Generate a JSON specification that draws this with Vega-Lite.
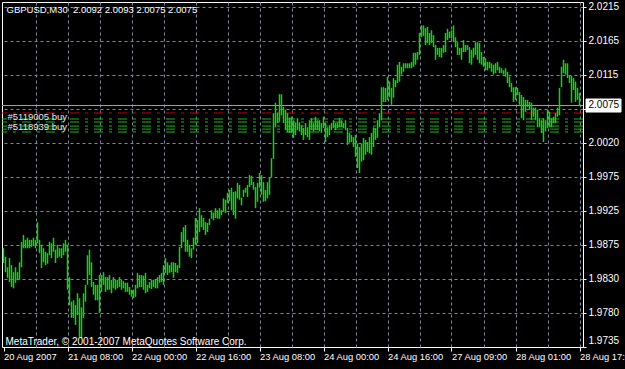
{
  "$schema": "https://vega.github.io/schema/vega-lite/v6.json",
  "width": 581,
  "height": 345,
  "autosize": {"type": "none"},
  "padding": {"left": 2, "top": 2, "right": 42, "bottom": 22},
  "background": "black",
  "config": {
    "view": {"stroke": "white", "strokeWidth": 1, "fill": "black"},
    "font": "Liberation Sans",
    "text": {"font": "Liberation Sans"}
  },
  "datasets": {
    "bars": [
      {"i":0,"h":1.9872,"l":1.9851},{"i":1,"h":1.9860,"l":1.9838},{"i":2,"h":1.9845,"l":1.9830},{"i":3,"h":1.9858,"l":1.9824},{"i":4,"h":1.9848,"l":1.9817},{"i":5,"h":1.9838,"l":1.9815},{"i":6,"h":1.9845,"l":1.9823},{"i":7,"h":1.9838,"l":1.9827},{"i":8,"h":1.9852,"l":1.9827},{"i":9,"h":1.9881,"l":1.9845},
      {"i":10,"h":1.9891,"l":1.9872},{"i":11,"h":1.9884,"l":1.9872},{"i":12,"h":1.9887,"l":1.9872},{"i":13,"h":1.9884,"l":1.9872},{"i":14,"h":1.9884,"l":1.9874},{"i":15,"h":1.9887,"l":1.9875},{"i":16,"h":1.9884,"l":1.9872},{"i":17,"h":1.9909,"l":1.9879},{"i":18,"h":1.9884,"l":1.9865},{"i":19,"h":1.9877,"l":1.9844},
      {"i":20,"h":1.9872,"l":1.9852},{"i":21,"h":1.9867,"l":1.9848},{"i":22,"h":1.9865,"l":1.9850},{"i":23,"h":1.9881,"l":1.9862},{"i":24,"h":1.9879,"l":1.9858},{"i":25,"h":1.9887,"l":1.9867},{"i":26,"h":1.9870,"l":1.9851},{"i":27,"h":1.9877,"l":1.9858},{"i":28,"h":1.9872,"l":1.9860},{"i":29,"h":1.9872,"l":1.9858},
      {"i":30,"h":1.9879,"l":1.9862},{"i":31,"h":1.9884,"l":1.9867},{"i":32,"h":1.9877,"l":1.9813},{"i":33,"h":1.9831,"l":1.9791},{"i":34,"h":1.9796,"l":1.9773},{"i":35,"h":1.9798,"l":1.9773},{"i":36,"h":1.9791,"l":1.9763},{"i":37,"h":1.9808,"l":1.9777},{"i":38,"h":1.9801,"l":1.9746},{"i":39,"h":1.9788,"l":1.9744},
      {"i":40,"h":1.9808,"l":1.9773},{"i":41,"h":1.9820,"l":1.9796},{"i":42,"h":1.9862,"l":1.9820},{"i":43,"h":1.9870,"l":1.9834},{"i":44,"h":1.9852,"l":1.9817},{"i":45,"h":1.9824,"l":1.9806},{"i":46,"h":1.9820,"l":1.9798},{"i":47,"h":1.9820,"l":1.9798},{"i":48,"h":1.9834,"l":1.9780},{"i":49,"h":1.9834,"l":1.9810},
      {"i":50,"h":1.9838,"l":1.9820},{"i":51,"h":1.9831,"l":1.9810},{"i":52,"h":1.9831,"l":1.9813},{"i":53,"h":1.9834,"l":1.9813},{"i":54,"h":1.9827,"l":1.9808},{"i":55,"h":1.9831,"l":1.9815},{"i":56,"h":1.9827,"l":1.9813},{"i":57,"h":1.9827,"l":1.9815},{"i":58,"h":1.9831,"l":1.9817},{"i":59,"h":1.9827,"l":1.9813},
      {"i":60,"h":1.9825,"l":1.9815},{"i":61,"h":1.9823,"l":1.9810},{"i":62,"h":1.9823,"l":1.9810},{"i":63,"h":1.9817,"l":1.9806},{"i":64,"h":1.9813,"l":1.9803},{"i":65,"h":1.9813,"l":1.9801},{"i":66,"h":1.9820,"l":1.9803},{"i":67,"h":1.9837,"l":1.9815},{"i":68,"h":1.9834,"l":1.9817},{"i":69,"h":1.9834,"l":1.9817},
      {"i":70,"h":1.9833,"l":1.9813},{"i":71,"h":1.9837,"l":1.9808},{"i":72,"h":1.9820,"l":1.9810},{"i":73,"h":1.9824,"l":1.9815},{"i":74,"h":1.9827,"l":1.9814},{"i":75,"h":1.9827,"l":1.9817},{"i":76,"h":1.9827,"l":1.9815},{"i":77,"h":1.9831,"l":1.9815},{"i":78,"h":1.9834,"l":1.9823},{"i":79,"h":1.9837,"l":1.9824},
      {"i":80,"h":1.9848,"l":1.9820},{"i":81,"h":1.9858,"l":1.9837},{"i":82,"h":1.9852,"l":1.9834},{"i":83,"h":1.9848,"l":1.9837},{"i":84,"h":1.9852,"l":1.9838},{"i":85,"h":1.9852,"l":1.9830},{"i":86,"h":1.9851,"l":1.9838},{"i":87,"h":1.9848,"l":1.9837},{"i":88,"h":1.9874,"l":1.9844},{"i":89,"h":1.9895,"l":1.9872},
      {"i":90,"h":1.9902,"l":1.9881},{"i":91,"h":1.9905,"l":1.9867},{"i":92,"h":1.9884,"l":1.9867},{"i":93,"h":1.9877,"l":1.9860},{"i":94,"h":1.9872,"l":1.9858},{"i":95,"h":1.9887,"l":1.9870},{"i":96,"h":1.9915,"l":1.9877},{"i":97,"h":1.9912,"l":1.9879},{"i":98,"h":1.9929,"l":1.9895},{"i":99,"h":1.9919,"l":1.9902},
      {"i":100,"h":1.9915,"l":1.9898},{"i":101,"h":1.9909,"l":1.9891},{"i":102,"h":1.9908,"l":1.9895},{"i":103,"h":1.9914,"l":1.9905},{"i":104,"h":1.9926,"l":1.9914},{"i":105,"h":1.9923,"l":1.9912},{"i":106,"h":1.9929,"l":1.9915},{"i":107,"h":1.9926,"l":1.9914},{"i":108,"h":1.9929,"l":1.9914},{"i":109,"h":1.9926,"l":1.9919},
      {"i":110,"h":1.9943,"l":1.9924},{"i":111,"h":1.9941,"l":1.9922},{"i":112,"h":1.9951,"l":1.9936},{"i":113,"h":1.9955,"l":1.9939},{"i":114,"h":1.9958,"l":1.9926},{"i":115,"h":1.9952,"l":1.9919},{"i":116,"h":1.9953,"l":1.9914},{"i":117,"h":1.9965,"l":1.9943},{"i":118,"h":1.9962,"l":1.9941},{"i":119,"h":1.9944,"l":1.9933},
      {"i":120,"h":1.9955,"l":1.9945},{"i":121,"h":1.9958,"l":1.9951},{"i":122,"h":1.9962,"l":1.9945},{"i":123,"h":1.9976,"l":1.9959},{"i":124,"h":1.9975,"l":1.9962},{"i":125,"h":1.9966,"l":1.9955},{"i":126,"h":1.9959,"l":1.9929},{"i":127,"h":1.9965,"l":1.9938},{"i":128,"h":1.9979,"l":1.9958},{"i":129,"h":1.9976,"l":1.9948},
      {"i":130,"h":1.9966,"l":1.9938},{"i":131,"h":1.9955,"l":1.9939},{"i":132,"h":1.9966,"l":1.9943},{"i":133,"h":1.9973,"l":1.9948},{"i":134,"h":2.0000,"l":1.9973},{"i":135,"h":2.0064,"l":1.9999},{"i":136,"h":2.0079,"l":2.0044},{"i":137,"h":2.0065,"l":2.0050},{"i":138,"h":2.0091,"l":2.0052},{"i":139,"h":2.0091,"l":2.0061},
      {"i":140,"h":2.0073,"l":2.0050},{"i":141,"h":2.0069,"l":2.0040},{"i":142,"h":2.0064,"l":2.0037},{"i":143,"h":2.0058,"l":2.0036},{"i":144,"h":2.0059,"l":2.0036},{"i":145,"h":2.0054,"l":2.0029},{"i":146,"h":2.0051,"l":2.0033},{"i":147,"h":2.0057,"l":2.0040},{"i":148,"h":2.0051,"l":2.0038},{"i":149,"h":2.0047,"l":2.0033},
      {"i":150,"h":2.0043,"l":2.0026},{"i":151,"h":2.0050,"l":2.0033},{"i":152,"h":2.0044,"l":2.0030},{"i":153,"h":2.0054,"l":2.0026},{"i":154,"h":2.0057,"l":2.0040},{"i":155,"h":2.0050,"l":2.0038},{"i":156,"h":2.0059,"l":2.0040},{"i":157,"h":2.0054,"l":2.0040},{"i":158,"h":2.0054,"l":2.0038},{"i":159,"h":2.0050,"l":2.0036},
      {"i":160,"h":2.0059,"l":2.0043},{"i":161,"h":2.0050,"l":2.0023},{"i":162,"h":2.0044,"l":2.0030},{"i":163,"h":2.0047,"l":2.0033},{"i":164,"h":2.0050,"l":2.0040},{"i":165,"h":2.0054,"l":2.0043},{"i":166,"h":2.0050,"l":2.0040},{"i":167,"h":2.0051,"l":2.0043},{"i":168,"h":2.0057,"l":2.0044},{"i":169,"h":2.0054,"l":2.0044},
      {"i":170,"h":2.0050,"l":2.0043},{"i":171,"h":2.0054,"l":2.0040},{"i":172,"h":2.0043,"l":2.0019},{"i":173,"h":2.0036,"l":2.0022},{"i":174,"h":2.0033,"l":2.0023},{"i":175,"h":2.0030,"l":2.0016},{"i":176,"h":2.0033,"l":2.0002},{"i":177,"h":2.0021,"l":1.9986},{"i":178,"h":2.0016,"l":1.9979},{"i":179,"h":2.0021,"l":1.9995},
      {"i":180,"h":2.0029,"l":1.9997},{"i":181,"h":2.0026,"l":2.0005},{"i":182,"h":2.0023,"l":2.0009},{"i":183,"h":2.0030,"l":2.0007},{"i":184,"h":2.0036,"l":2.0005},{"i":185,"h":2.0044,"l":2.0016},{"i":186,"h":2.0043,"l":2.0026},{"i":187,"h":2.0054,"l":2.0029},{"i":188,"h":2.0064,"l":2.0044},{"i":189,"h":2.0101,"l":2.0054},
      {"i":190,"h":2.0101,"l":2.0080},{"i":191,"h":2.0100,"l":2.0080},{"i":192,"h":2.0116,"l":2.0083},{"i":193,"h":2.0109,"l":2.0087},{"i":194,"h":2.0100,"l":2.0076},{"i":195,"h":2.0114,"l":2.0086},{"i":196,"h":2.0111,"l":2.0101},{"i":197,"h":2.0133,"l":2.0107},{"i":198,"h":2.0137,"l":2.0109},{"i":199,"h":2.0130,"l":2.0119},
      {"i":200,"h":2.0135,"l":2.0123},{"i":201,"h":2.0135,"l":2.0128},{"i":202,"h":2.0135,"l":2.0128},{"i":203,"h":2.0135,"l":2.0128},{"i":204,"h":2.0137,"l":2.0128},{"i":205,"h":2.0150,"l":2.0130},{"i":206,"h":2.0150,"l":2.0133},{"i":207,"h":2.0151,"l":2.0140},{"i":208,"h":2.0178,"l":2.0147},{"i":209,"h":2.0189,"l":2.0172},
      {"i":210,"h":2.0189,"l":2.0174},{"i":211,"h":2.0185,"l":2.0161},{"i":212,"h":2.0187,"l":2.0164},{"i":213,"h":2.0178,"l":2.0161},{"i":214,"h":2.0182,"l":2.0164},{"i":215,"h":2.0175,"l":2.0158},{"i":216,"h":2.0161,"l":2.0140},{"i":217,"h":2.0157,"l":2.0147},{"i":218,"h":2.0157,"l":2.0144},{"i":219,"h":2.0157,"l":2.0143},
      {"i":220,"h":2.0161,"l":2.0150},{"i":221,"h":2.0178,"l":2.0151},{"i":222,"h":2.0184,"l":2.0168},{"i":223,"h":2.0180,"l":2.0171},{"i":224,"h":2.0182,"l":2.0171},{"i":225,"h":2.0189,"l":2.0165},{"i":226,"h":2.0172,"l":2.0158},{"i":227,"h":2.0165,"l":2.0147},{"i":228,"h":2.0157,"l":2.0147},{"i":229,"h":2.0157,"l":2.0140},
      {"i":230,"h":2.0168,"l":2.0151},{"i":231,"h":2.0161,"l":2.0151},{"i":232,"h":2.0161,"l":2.0154},{"i":233,"h":2.0158,"l":2.0135},{"i":234,"h":2.0154,"l":2.0133},{"i":235,"h":2.0157,"l":2.0143},{"i":236,"h":2.0165,"l":2.0147},{"i":237,"h":2.0165,"l":2.0140},{"i":238,"h":2.0164,"l":2.0135},{"i":239,"h":2.0151,"l":2.0133},
      {"i":240,"h":2.0144,"l":2.0130},{"i":241,"h":2.0142,"l":2.0125},{"i":242,"h":2.0137,"l":2.0125},{"i":243,"h":2.0137,"l":2.0128},{"i":244,"h":2.0135,"l":2.0123},{"i":245,"h":2.0133,"l":2.0119},{"i":246,"h":2.0135,"l":2.0121},{"i":247,"h":2.0137,"l":2.0125},{"i":248,"h":2.0130,"l":2.0121},{"i":249,"h":2.0128,"l":2.0121},
      {"i":250,"h":2.0125,"l":2.0119},{"i":251,"h":2.0128,"l":2.0116},{"i":252,"h":2.0123,"l":2.0107},{"i":253,"h":2.0116,"l":2.0101},{"i":254,"h":2.0107,"l":2.0094},{"i":255,"h":2.0101,"l":2.0080},{"i":256,"h":2.0101,"l":2.0083},{"i":257,"h":2.0100,"l":2.0090},{"i":258,"h":2.0094,"l":2.0076},{"i":259,"h":2.0090,"l":2.0057},
      {"i":260,"h":2.0087,"l":2.0054},{"i":261,"h":2.0083,"l":2.0066},{"i":262,"h":2.0083,"l":2.0073},{"i":263,"h":2.0080,"l":2.0069},{"i":264,"h":2.0079,"l":2.0054},{"i":265,"h":2.0072,"l":2.0059},{"i":266,"h":2.0072,"l":2.0054},{"i":267,"h":2.0069,"l":2.0044},{"i":268,"h":2.0057,"l":2.0044},{"i":269,"h":2.0054,"l":2.0036},
      {"i":270,"h":2.0057,"l":2.0023},{"i":271,"h":2.0054,"l":2.0038},{"i":272,"h":2.0069,"l":2.0043},{"i":273,"h":2.0066,"l":2.0044},{"i":274,"h":2.0057,"l":2.0044},{"i":275,"h":2.0059,"l":2.0050},{"i":276,"h":2.0064,"l":2.0050},{"i":277,"h":2.0072,"l":2.0059},{"i":278,"h":2.0100,"l":2.0061},{"i":279,"h":2.0130,"l":2.0101},
      {"i":280,"h":2.0140,"l":2.0121},{"i":281,"h":2.0135,"l":2.0119},{"i":282,"h":2.0135,"l":2.0114},{"i":283,"h":2.0118,"l":2.0107},{"i":284,"h":2.0117,"l":2.0079},{"i":285,"h":2.0114,"l":2.0097},{"i":286,"h":2.0109,"l":2.0080},{"i":287,"h":2.0100,"l":2.0083},{"i":288,"h":2.0093,"l":2.0075}
    ],
    "orders": [
      {"p": 2.00643, "kind": "stop"},
      {"p": 2.00558, "kind": "open"},
      {"p": 2.00515, "kind": "open"},
      {"p": 2.00457, "kind": "open"},
      {"p": 2.00414, "kind": "open"},
      {"p": 2.00373, "kind": "open"}
    ],
    "notes": [
      {"t": "GBPUSD,M30\u00a0\u00a02.0092 2.0093 2.0075 2.0075", "i": 1.5, "p": 2.02108, "c": "white", "s": 9.5},
      {"t": "MetaTrader, © 2001-2007 MetaQuotes Software Corp.", "i": 1, "p": 1.97387, "c": "white", "s": 10},
      {"t": "#5119005 buy", "i": 2, "p": 2.00586, "c": "#e8e8e8", "s": 9.5},
      {"t": "#5118939 buy", "i": 2, "p": 2.00437, "c": "#e8e8e8", "s": 9.5}
    ],
    "price": [
      {"t": "2.0075", "p": 2.0075, "x1": 291.25, "x2": 308.75, "p1": 2.00842, "p2": 2.00657, "xt": 292.5}
    ]
  },
  "layer": [
    {
      "data": {"name": "orders"},
      "mark": {"type": "rule", "strokeWidth": 1, "strokeDash": [9,6,3,6]},
      "encoding": {
        "y": {"field": "p", "type": "quantitative", "scale": {"domain": [1.973157, 2.022216], "nice": false, "zero": false}},
        "color": {"field": "kind", "type": "nominal", "scale": {"domain": ["stop","open"], "range": ["#c80000","#22b022"]}, "legend": null}
      }
    },
    {
      "data": {"values": [{"p": 2.0075}]},
      "mark": {"type": "rule", "color": "#a0a0a0", "strokeWidth": 1},
      "encoding": {"y": {"field": "p", "type": "quantitative"}}
    },
    {
      "data": {"name": "bars"},
      "mark": {"type": "rule", "color": "#14d214", "strokeWidth": 1.5},
      "encoding": {
        "x": {
          "field": "i", "type": "quantitative",
          "scale": {"domain": [-0.75, 289.75], "nice": false, "zero": false},
          "axis": {
            "orient": "bottom", "title": null, "domain": false, "tickCount": 200,
            "values": [0,16,32,48,64,80,96,112,128,144,160,176,192,208,224,240,256,272,288],
            "grid": true, "gridColor": "#778899", "gridDash": [3,3],
            "gridOpacity": {"condition": {"test": "datum.value == 0", "value": 0}, "value": 1},
            "ticks": true, "tickColor": "white", "tickSize": 4,
            "tickOpacity": {"condition": {"test": "datum.value % 32 == 0", "value": 1}, "value": 0},
            "labelExpr": "datum.value % 32 == 0 ? ['20 Aug 2007','21 Aug 08:00','22 Aug 00:00','22 Aug 16:00','23 Aug 08:00','24 Aug 00:00','24 Aug 16:00','27 Aug 09:00','28 Aug 01:00','28 Aug 17:00'][datum.value/32] : ''",
            "labelAlign": "left", "labelBaseline": "top", "labelPadding": 1,
            "labelColor": "white", "labelFont": "Liberation Sans", "labelFontSize": 9.4,
            "labelOverlap": false, "labelFlush": false, "labelBound": false
          }
        },
        "y": {
          "field": "h", "type": "quantitative",
          "scale": {"domain": [1.973157, 2.022216], "nice": false, "zero": false},
          "axis": {
            "orient": "right", "title": null, "domain": false, "tickCount": 200,
            "values": [2.021505, 2.01667, 2.011835, 2.007, 2.002165, 1.99733, 1.992496, 1.987661, 1.982826, 1.977991, 1.97316],
            "grid": true, "gridColor": "#778899", "gridDash": [3,3],
            "gridOpacity": {"condition": {"test": "datum.value < 1.974", "value": 0}, "value": 1},
            "ticks": true, "tickColor": "white", "tickSize": 3,
            "labelExpr": "['2.0215','2.0165','2.0115','','2.0020','1.9975','1.9925','1.9875','1.9830','1.9780','1.9735'][round((2.021505 - datum.value) / 0.004835)]",
            "labelOffset": {"condition": {"test": "datum.value < 1.974", "value": -6}, "value": -1},
            "labelAlign": "left", "labelBaseline": "middle", "labelPadding": 2,
            "labelColor": "white", "labelFont": "Liberation Sans", "labelFontSize": 10,
            "labelOverlap": false, "labelFlush": false, "labelBound": false
          }
        },
        "y2": {"field": "l"}
      }
    },
    {
      "data": {"name": "notes"},
      "mark": {"type": "text", "align": "left", "baseline": "middle", "font": "Liberation Sans"},
      "encoding": {
        "x": {"field": "i", "type": "quantitative"},
        "y": {"field": "p", "type": "quantitative"},
        "text": {"field": "t"},
        "size": {"field": "s", "type": "quantitative", "scale": null},
        "color": {"field": "c", "type": "nominal", "scale": null}
      }
    },
    {
      "data": {"name": "price"},
      "mark": {"type": "rect", "fill": "white", "stroke": "white"},
      "encoding": {
        "x": {"field": "x1", "type": "quantitative"},
        "x2": {"field": "x2"},
        "y": {"field": "p1", "type": "quantitative"},
        "y2": {"field": "p2"}
      }
    },
    {
      "data": {"name": "price"},
      "mark": {"type": "text", "align": "left", "baseline": "middle", "fontSize": 10, "font": "Liberation Sans", "color": "black"},
      "encoding": {
        "x": {"field": "xt", "type": "quantitative"},
        "y": {"field": "p", "type": "quantitative"},
        "text": {"field": "t"}
      }
    }
  ]
}
